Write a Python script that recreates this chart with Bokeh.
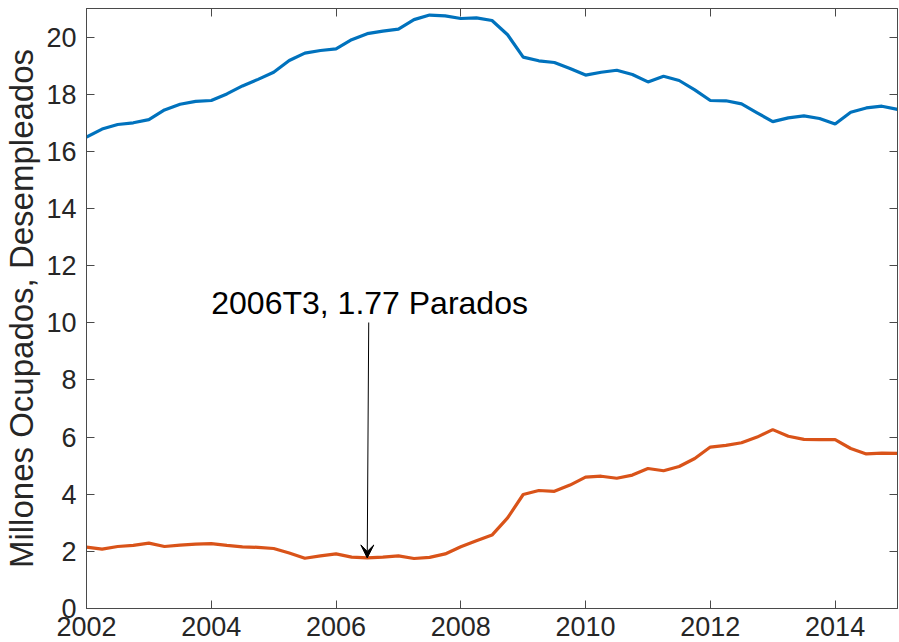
from bokeh.plotting import figure
from bokeh.models import Range1d, LinearAxis, FixedTicker, Label, Arrow, VeeHead, CustomJSTickFormatter
from bokeh.embed import file_html
from bokeh.resources import INLINE

# Trimestres 2002T1 .. 2015T1
fechas = [2002 + i / 4 for i in range(53)]

ocupados = [16.50, 16.78, 16.94, 17.00, 17.11, 17.45, 17.65, 17.75, 17.78, 18.01,
            18.29, 18.52, 18.77, 19.18, 19.44, 19.53, 19.59, 19.91, 20.12, 20.21,
            20.28, 20.61, 20.77, 20.74, 20.65, 20.67, 20.58, 20.08, 19.30, 19.17,
            19.11, 18.90, 18.67, 18.77, 18.84, 18.69, 18.43, 18.63, 18.48, 18.15,
            17.78, 17.77, 17.66, 17.35, 17.04, 17.17, 17.24, 17.15, 16.96, 17.37,
            17.52, 17.58, 17.47]

parados = [2.15, 2.08, 2.17, 2.21, 2.29, 2.17, 2.22, 2.25, 2.27, 2.21,
           2.16, 2.14, 2.10, 1.94, 1.76, 1.84, 1.91, 1.80, 1.77, 1.80,
           1.84, 1.75, 1.79, 1.91, 2.16, 2.37, 2.57, 3.17, 3.99, 4.13,
           4.10, 4.32, 4.60, 4.63, 4.56, 4.67, 4.90, 4.82, 4.97, 5.25,
           5.65, 5.71, 5.80, 6.00, 6.26, 6.03, 5.92, 5.91, 5.91, 5.60,
           5.41, 5.44, 5.43]

x_ticks = [2002, 2004, 2006, 2008, 2010, 2012, 2014]
y_ticks = [0, 2, 4, 6, 8, 10, 12, 14, 16, 18, 20]

anot_x = 2006.5
anot_y = 1.77
anot_texto = "2006T3, 1.77 Parados"

FONT = "Liberation Sans"
AXC = "#4a4a4a"
TXT = "#262626"

p = figure(width=899, height=642, output_backend="svg", toolbar_location=None,
           x_range=Range1d(2002, 2015), y_range=Range1d(0, 21),
           x_axis_location=None, y_axis_location=None,
           min_border_left=86, min_border_right=2, min_border_top=8, min_border_bottom=34)
p.grid.visible = False
p.outline_line_color = AXC
p.outline_line_width = 1
p.background_fill_color = "white"
p.border_fill_color = "white"

def style(ax, labels=True):
    ax.axis_line_color = AXC
    ax.major_tick_line_color = AXC
    ax.major_tick_in = 8
    ax.major_tick_out = 0
    ax.minor_tick_line_color = None
    ax.major_label_text_font = FONT
    ax.major_label_text_color = TXT
    ax.major_label_text_font_size = "27px"
    if not labels:
        ax.formatter = CustomJSTickFormatter(code="return ''")
        ax.major_label_standoff = 0

xb = LinearAxis(ticker=FixedTicker(ticks=x_ticks))
style(xb)
xb.major_label_standoff = 8
xb.major_label_text_line_height = 1.0
p.add_layout(xb, "below")

yl = LinearAxis(ticker=FixedTicker(ticks=y_ticks))
style(yl)
yl.major_label_standoff = 10
yl.axis_label = "Millones Ocupados, Desempleados"
yl.axis_label_text_font = FONT
yl.axis_label_text_font_size = "33px"
yl.axis_label_text_font_style = "normal"
yl.axis_label_text_color = TXT
yl.axis_label_standoff = 3
p.add_layout(yl, "left")

xt = LinearAxis(ticker=FixedTicker(ticks=x_ticks))
style(xt, labels=False)
p.add_layout(xt, "above")

yr = LinearAxis(ticker=FixedTicker(ticks=y_ticks))
style(yr, labels=False)
p.add_layout(yr, "right")

p.line(fechas, ocupados, line_color="#0072BD", line_width=3.2)
p.line(fechas, parados, line_color="#D95319", line_width=3.2)

p.add_layout(Arrow(end=VeeHead(size=13, fill_color="black", line_color="black", line_width=1),
                   x_start=2006.524, y_start=10.01, x_end=anot_x, y_end=anot_y,
                   line_color="black", line_width=1))
p.add_layout(Label(x=2004.0, y=10.69, text=anot_texto, text_font=FONT,
                   text_font_size="32px", text_color="black", text_baseline="middle"))

open("out.html", "w").write(file_html(p, INLINE))
